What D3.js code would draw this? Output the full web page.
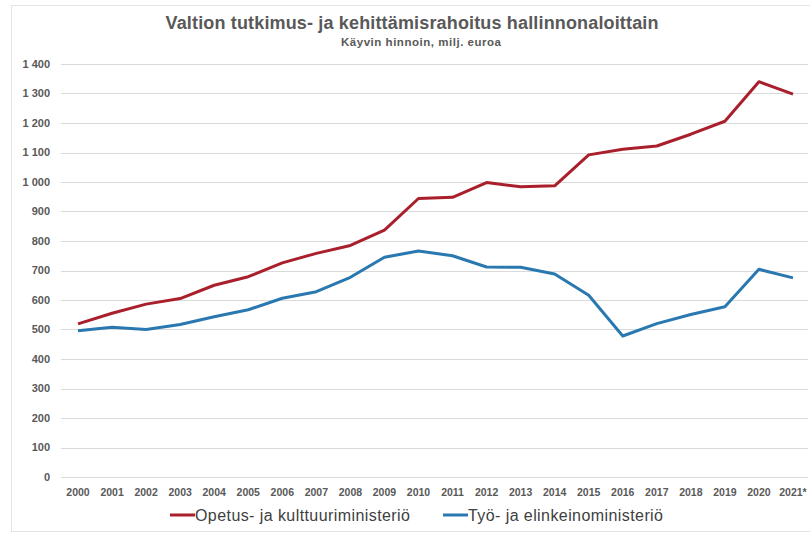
<!DOCTYPE html>
<html>
<head>
<meta charset="utf-8">
<script src="https://cdn.jsdelivr.net/npm/d3@7"></script>
<style>
  body { margin: 0; background: #fff; }
  svg { display: block; font-family: "Liberation Sans", Arial, sans-serif; }
</style>
</head>
<body>
<div id="chart"></div>
<script>
const width = 810;
const height = 534;

// data (milj. euroa)
const years = ["2000","2001","2002","2003","2004","2005","2006","2007","2008","2009","2010",
               "2011","2012","2013","2014","2015","2016","2017","2018","2019","2020","2021*"];
const okm = [519, 555, 586, 605, 650, 679, 726, 758, 785, 837, 944,
             948, 998, 984, 987, 1092, 1111, 1122, 1162, 1206, 1340, 1298];
const tem = [496, 508, 500, 517, 543, 567, 606, 628, 677, 745, 766,
             750, 712, 711, 688, 616, 478, 520, 551, 577, 704, 675];
const yTicks = [0, 100, 200, 300, 400, 500, 600, 700, 800, 900, 1000, 1100, 1200, 1300, 1400];
const seriesNames = ["Opetus- ja kulttuuriministeriö", "Työ- ja elinkeinoministeriö"];
const seriesColors = ["#a91f2c", "#2a78b0"];

const svg = d3.select("#chart")
  .append("svg")
  .attr("width", width)
  .attr("height", height);

// faint outer frame
svg.append("rect")
  .attr("x", 11.5).attr("y", 5.5)
  .attr("width", 810).attr("height", 526)
  .attr("fill", "none")
  .attr("stroke", "#e4e4e4");

const x = d3.scaleBand().domain(years).range([61, 810]);
const y = d3.scaleLinear().domain([0, 1400]).range([477, 64]);

// gridlines
svg.append("g")
  .selectAll("line")
  .data(yTicks)
  .enter()
  .append("line")
  .attr("x1", 61).attr("x2", 808)
  .attr("y1", d => Math.round(y(d)) + 0.5)
  .attr("y2", d => Math.round(y(d)) + 0.5)
  .attr("stroke", "#dadada")
  .attr("stroke-width", 1);

// y axis labels
const fmt = d => d >= 1000 ? Math.floor(d / 1000) + " " + d3.format("03d")(d % 1000) : String(d);
svg.append("g")
  .selectAll("text")
  .data(yTicks)
  .enter()
  .append("text")
  .attr("x", 50)
  .attr("y", d => y(d))
  .attr("dy", "0.35em")
  .attr("text-anchor", "end")
  .attr("fill", "#595959")
  .style("font-size", "11px")
  .style("font-weight", "bold")
  .text(fmt);

// x axis labels
svg.append("g")
  .selectAll("text")
  .data(years)
  .enter()
  .append("text")
  .attr("x", d => x(d) + x.bandwidth() / 2)
  .attr("y", 492)
  .attr("dy", "0.35em")
  .attr("text-anchor", "middle")
  .attr("fill", "#595959")
  .style("font-size", "10.5px")
  .style("font-weight", "bold")
  .text(d => d);

// lines
const line = d3.line()
  .x((d, i) => x(years[i]) + x.bandwidth() / 2)
  .y(d => y(d));

[okm, tem].forEach(function(values, i) {
  svg.append("path")
    .datum(values)
    .attr("d", line)
    .attr("fill", "none")
    .attr("stroke", seriesColors[i])
    .attr("stroke-width", 3)
    .attr("stroke-linejoin", "round");
});

// title
svg.append("text")
  .attr("x", 412).attr("y", 23)
  .attr("dy", "0.35em")
  .attr("text-anchor", "middle")
  .attr("fill", "#595959")
  .attr("textLength", 493)
  .attr("lengthAdjust", "spacing")
  .style("font-size", "18px")
  .style("font-weight", "bold")
  .text("Valtion tutkimus- ja kehittämisrahoitus hallinnonaloittain");

svg.append("text")
  .attr("x", 421).attr("y", 42)
  .attr("dy", "0.35em")
  .attr("text-anchor", "middle")
  .attr("fill", "#595959")
  .attr("textLength", 160)
  .attr("lengthAdjust", "spacing")
  .style("font-size", "11.5px")
  .style("font-weight", "bold")
  .text("Käyvin hinnoin, milj. euroa");

// legend
const legendX = [170, 443];
const legendW = [215, 195];
const legend = svg.append("g")
  .selectAll("g")
  .data(seriesNames)
  .enter()
  .append("g")
  .attr("transform", (d, i) => "translate(" + legendX[i] + ",515)");

legend.append("line")
  .attr("x1", 0).attr("x2", 25)
  .attr("stroke", (d, i) => seriesColors[i])
  .attr("stroke-width", 3);

legend.append("text")
  .attr("x", 25)
  .attr("dy", "0.35em")
  .attr("fill", "#404040")
  .attr("textLength", (d, i) => legendW[i])
  .attr("lengthAdjust", "spacing")
  .style("font-size", "16px")
  .text(d => d);
</script>
</body>
</html>
